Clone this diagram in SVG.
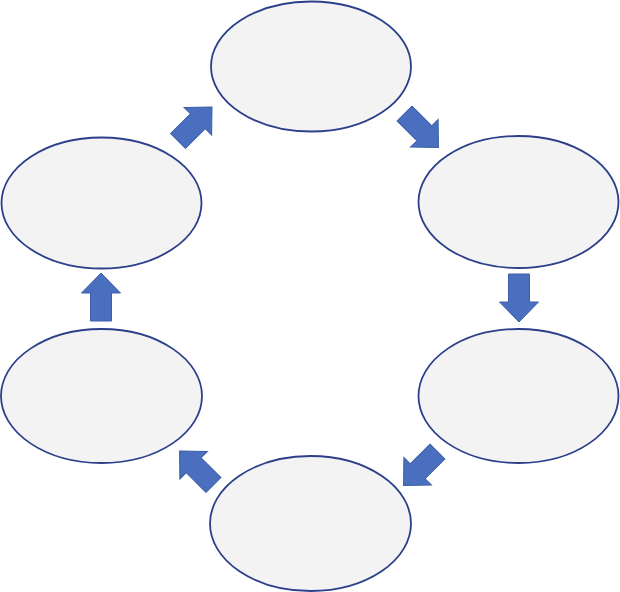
<svg xmlns="http://www.w3.org/2000/svg" width="620" height="592" viewBox="0 0 620 592">
  <style>
    .node { fill: #F3F3F3; stroke: #2B3F8A; stroke-width: 1.8; }
    .arrow { fill: #4A6FBF; stroke: #3E5EA8; stroke-width: 1; }
  </style>
  <defs>
    <polygon id="blockArrow" points="-24,-10.5 4,-10.5 4,-19.5 24,0 4,19.5 4,10.5 -24,10.5"/>
  </defs>
  <rect width="620" height="592" fill="#FFFFFF"/>
  <g id="node-top"><ellipse class="node" cx="311" cy="66.5" rx="100" ry="65"/></g>
  <g id="node-right-upper"><ellipse class="node" cx="518.5" cy="202" rx="100" ry="66"/></g>
  <g id="node-right-lower"><ellipse class="node" cx="518.5" cy="396" rx="100" ry="67"/></g>
  <g id="node-bottom"><ellipse class="node" cx="310.5" cy="523.5" rx="100.5" ry="67.5"/></g>
  <g id="node-left-lower"><ellipse class="node" cx="101.5" cy="396" rx="100.5" ry="67"/></g>
  <g id="node-left-upper"><ellipse class="node" cx="101.5" cy="203" rx="100" ry="65.5"/></g>
  <g id="connectors">
    <use href="#blockArrow" class="arrow" transform="translate(421.5,130.5) rotate(45)"/>
    <use href="#blockArrow" class="arrow" transform="translate(519,298) rotate(90)"/>
    <use href="#blockArrow" class="arrow" transform="translate(420.5,468.5) rotate(135)"/>
    <use href="#blockArrow" class="arrow" transform="translate(196.5,468) rotate(-135)"/>
    <use href="#blockArrow" class="arrow" transform="translate(101,297) rotate(-90)"/>
    <use href="#blockArrow" class="arrow" transform="translate(195,124) rotate(-45)"/>
  </g>
</svg>
